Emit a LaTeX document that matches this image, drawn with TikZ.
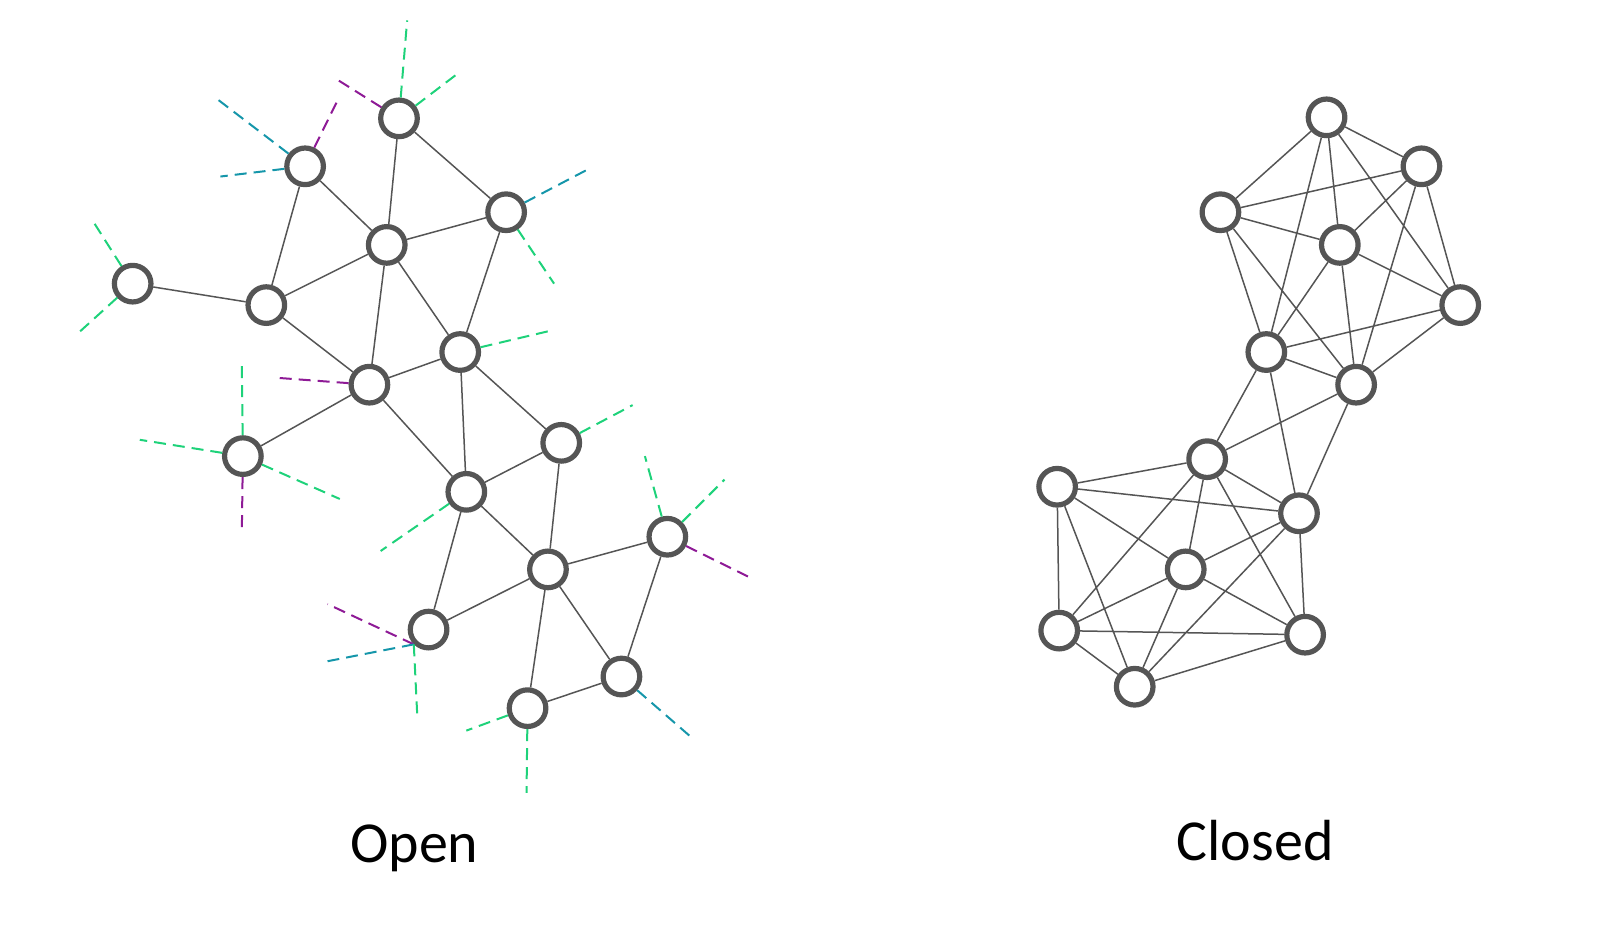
\documentclass[tikz,border=0pt]{standalone}
\usepackage{fontspec}
\newfontfamily\labelfont{Carlito}
\definecolor{ring}{HTML}{555555}
\definecolor{stubgreen}{HTML}{1ED27A}
\definecolor{stubteal}{HTML}{1596AA}
\definecolor{stubpurple}{HTML}{8E1A96}

\begin{document}
\begin{tikzpicture}[x=0.5102pt, y=-0.5102pt,
  dot/.style={circle, draw=ring, line width=2.6pt, fill=white, minimum size=18.3pt, inner sep=0pt},
  link/.style={draw=ring, line width=0.75pt},
  stub/.style={line width=1pt, dash pattern=on 6pt off 3.5pt},
  gstub/.style={stub, draw=stubgreen},
  tstub/.style={stub, draw=stubteal},
  pstub/.style={stub, draw=stubpurple},
  caption/.style={anchor=base, font=\labelfont\fontsize{29}{34}\selectfont}]
  \useasboundingbox (0,0) rectangle (1568,908);

  % Open network
  \node[dot] (n1) at (391,116) {};
  \node[dot] (n2) at (299,163) {};
  \node[dot] (n3) at (496,208) {};
  \node[dot] (n4) at (379,240) {};
  \node[dot] (n5) at (130,278) {};
  \node[dot] (n6) at (261,299) {};
  \node[dot] (n7) at (451,345) {};
  \node[dot] (n8) at (362,377) {};
  \node[dot] (n9) at (238,447) {};
  \node[dot] (n10) at (550,434) {};
  \node[dot] (n11) at (457,482) {};
  \node[dot] (n12) at (654,526) {};
  \node[dot] (n13) at (537,558) {};
  \node[dot] (n14) at (420,617) {};
  \node[dot] (n15) at (609,663) {};
  \node[dot] (n16) at (517,694) {};
  \draw[link] (n1) -- (n4) (n1) -- (n3) (n2) -- (n4) (n2) -- (n6)
    (n4) -- (n3) (n4) -- (n6) (n4) -- (n8) (n4) -- (n7) (n3) -- (n7)
    (n5) -- (n6) (n6) -- (n8) (n8) -- (n7) (n8) -- (n9) (n8) -- (n11)
    (n7) -- (n11) (n7) -- (n10) (n10) -- (n11) (n10) -- (n13)
    (n11) -- (n13) (n11) -- (n14) (n13) -- (n12) (n13) -- (n14)
    (n13) -- (n16) (n13) -- (n15) (n12) -- (n15) (n15) -- (n16);
  % Open ends
  \draw[gstub] (n1) -- (399,20);
  \draw[gstub] (n1) -- (450,71);
  \draw[pstub] (n1) -- (332,79);
  \draw[pstub] (n2) -- (331,98);
  \draw[tstub] (n2) -- (214,98);
  \draw[tstub] (n2) -- (216,173);
  \draw[tstub] (n3) -- (578,165);
  \draw[gstub] (n3) -- (543,278);
  \draw[gstub] (n5) -- (90,215);
  \draw[gstub] (n5) -- (76,327);
  \draw[gstub] (n7) -- (540,324);
  \draw[pstub] (n8) -- (268,370);
  \draw[gstub] (n9) -- (237,357);
  \draw[gstub] (n9) -- (137,431);
  \draw[gstub] (n9) -- (333,489);
  \draw[pstub] (n9) -- (237,521);
  \draw[gstub] (n10) -- (620,397);
  \draw[gstub] (n11) -- (373,540);
  \draw[gstub] (n12) -- (632,447);
  \draw[gstub] (n12) -- (710,470);
  \draw[pstub] (n12) -- (735,566);
  \draw[pstub] (n14.225) -- (321,592);
  \draw[tstub] (n14.225) -- (321,648);
  \draw[gstub] (n14.225) -- (409,703);
  \draw[tstub] (n15) -- (678,723);
  \draw[gstub] (n16) -- (457,716);
  \draw[gstub] (n16) -- (516,777);

  % Closed network
  \node[dot] (c1) at (1300,115) {};
  \node[dot] (c2) at (1393,163) {};
  \node[dot] (c3) at (1196,208) {};
  \node[dot] (c4) at (1313,240) {};
  \node[dot] (c5) at (1431,299) {};
  \node[dot] (c6) at (1241,345) {};
  \node[dot] (c7) at (1329,377) {};
  \node[dot] (c8) at (1183,450) {};
  \node[dot] (c9) at (1036,477) {};
  \node[dot] (c10) at (1273,503) {};
  \node[dot] (c11) at (1162,558) {};
  \node[dot] (c12) at (1038,618) {};
  \node[dot] (c13) at (1279,622) {};
  \node[dot] (c14) at (1112,673) {};
  \draw[link] (c1) -- (c3) (c1) -- (c2) (c1) -- (c4) (c1) -- (c6)
    (c1) -- (c5) (c3) -- (c2) (c3) -- (c4) (c3) -- (c6) (c3) -- (c7)
    (c2) -- (c4) (c2) -- (c7) (c2) -- (c5) (c4) -- (c5) (c4) -- (c6)
    (c4) -- (c7) (c5) -- (c6) (c5) -- (c7) (c6) -- (c7) (c6) -- (c8)
    (c6) -- (c10) (c7) -- (c8) (c7) -- (c10);
  \draw[link] (c9) -- (c8) (c9) -- (c10) (c9) -- (c11) (c9) -- (c12)
    (c9) -- (c14) (c8) -- (c10) (c8) -- (c11) (c8) -- (c12) (c8) -- (c13)
    (c10) -- (c11) (c10) -- (c14) (c10) -- (c13) (c11) -- (c12)
    (c11) -- (c14) (c11) -- (c13) (c12) -- (c13) (c12) -- (c14)
    (c14) -- (c13);

  % Captions
  \node[caption] (openlbl) at (406,845) {Open};
  \node[caption] (closedlbl) at (1230,843) {Closed};
\end{tikzpicture}
\end{document}
